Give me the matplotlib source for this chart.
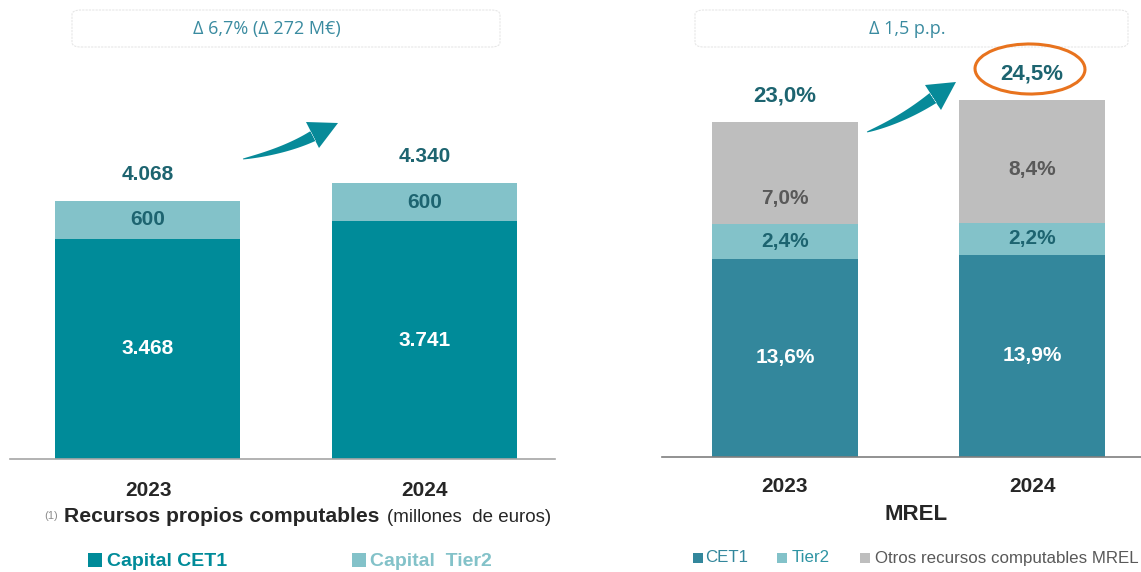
import matplotlib
matplotlib.use("Agg")
import matplotlib.pyplot as plt
import numpy as np
from matplotlib.patches import FancyBboxPatch, Ellipse, Polygon, Rectangle

# ---------------- data ----------------
years = ["2023", "2024"]
cet1_m = [3468, 3741]
tier2_m = [600, 600]
total_m = ["4.068", "4.340"]
cet1_lbl = ["3.468", "3.741"]
tier2_lbl = ["600", "600"]

mrel_cet1 = [13.6, 13.9]
mrel_tier2 = [2.4, 2.2]
mrel_otros = [7.0, 8.4]
mrel_total_lbl = ["23,0%", "24,5%"]

W, H = 1141, 572
fig = plt.figure(figsize=(W / 100, H / 100), dpi=100)

FN = ["Liberation Sans", "DejaVu Sans"]
FB = ["Open Sans", "DejaVu Sans"]


def fx(px):
    return px / W


def fy(py):
    return 1 - py / H


def pct(v):
    return f"{v:.1f}%".replace(".", ",")


C_CET1 = "#008B99"
C_T2 = "#83C2C9"
C_MCET1 = "#33879C"
C_OTROS = "#BEBEBE"
C_DARK = "#1D6470"

# ---------------- left chart ----------------
axL = fig.add_axes([fx(10), fy(459), fx(555) - fx(10), fy(60) - fy(459)])
axL.set_xlim(-0.496, 1.471)
axL.set_ylim(0, 399 / 0.0635)
x = [0, 1]
bw = 185 / 277
axL.bar(x, cet1_m, width=bw, color=C_CET1)
axL.bar(x, tier2_m, width=bw, bottom=cet1_m, color=C_T2)
for i in range(2):
    axL.text(x[i], cet1_m[i] / 2, cet1_lbl[i], ha="center", va="center",
             color="white", fontsize=15, fontweight="bold", family=FN)
    axL.text(x[i], cet1_m[i] + tier2_m[i] / 2, tier2_lbl[i], ha="center", va="center",
             color=C_DARK, fontsize=15, fontweight="bold", family=FN)
    axL.text(x[i], cet1_m[i] + tier2_m[i] + 420, total_m[i], ha="center", va="center",
             color=C_DARK, fontsize=15, fontweight="bold", family=FN)
for s in ["top", "right", "left"]:
    axL.spines[s].set_visible(False)
axL.spines["bottom"].set_color("#A6A6A6")
axL.spines["bottom"].set_linewidth(1.2)
axL.set_yticks([])
axL.set_xticks([])

# ---------------- right chart ----------------
axR = fig.add_axes([fx(662), fy(457), fx(1141) - fx(662), fy(60) - fy(457)])
axR.set_xlim(-0.498, 1.441)
axR.set_ylim(0, 397 / 14.56)
bw2 = 146 / 247
b1 = mrel_cet1
b2 = [a + b for a, b in zip(mrel_cet1, mrel_tier2)]
b3 = [a + b for a, b in zip(b2, mrel_otros)]
otros_frac = [0.255, 0.43]  # label position inside the grey segment
axR.bar(x, mrel_cet1, width=bw2, color=C_MCET1)
axR.bar(x, mrel_tier2, width=bw2, bottom=b1, color=C_T2)
axR.bar(x, mrel_otros, width=bw2, bottom=b2, color=C_OTROS)
for i in range(2):
    axR.text(x[i], mrel_cet1[i] / 2, pct(mrel_cet1[i]), ha="center", va="center",
             color="white", fontsize=15, fontweight="bold", family=FN)
    axR.text(x[i], b1[i] + mrel_tier2[i] / 2, pct(mrel_tier2[i]), ha="center", va="center",
             color=C_DARK, fontsize=15, fontweight="bold", family=FN)
    axR.text(x[i], b2[i] + mrel_otros[i] * otros_frac[i], pct(mrel_otros[i]), ha="center",
             va="center", color="#595959", fontsize=15, fontweight="bold", family=FN)
    axR.text(x[i], b3[i] + 1.8, mrel_total_lbl[i], ha="center", va="center",
             color=C_DARK, fontsize=16, fontweight="bold", family=FN)
for s in ["top", "right", "left"]:
    axR.spines[s].set_visible(False)
axR.spines["bottom"].set_color("#7F7F7F")
axR.spines["bottom"].set_linewidth(1.2)
axR.set_yticks([])
axR.set_xticks([])

# ---------------- x labels and titles ----------------
for px, lab in zip([148, 424], years):
    fig.text(fx(px), fy(490), lab, ha="center", va="center", fontsize=15,
             fontweight="bold", color="#262626", family=FN)
for px, lab in zip([784, 1032], years):
    fig.text(fx(px), fy(487), lab, ha="center", va="center", fontsize=15,
             fontweight="bold", color="#262626", family=FN)

fig.text(fx(44), fy(516), "(1)", ha="left", va="center", fontsize=8, color="#8C8C8C", family=FN)
fig.text(fx(64), fy(517), "Recursos propios computables", ha="left", va="center",
         fontsize=15.2, fontweight="bold", color="#262626", family=FN)
fig.text(fx(551), fy(518), "(millones  de euros)", ha="right", va="center",
         fontsize=13.5, color="#262626", family=FN)
fig.text(fx(916), fy(515), "MREL", ha="center", va="center", fontsize=16,
         fontweight="bold", color="#262626", family=FN)


# ---------------- legends ----------------
def square(x0, y0, s, color):
    fig.add_artist(Rectangle((fx(x0), fy(y0 + s)), s / W, s / H,
                             transform=fig.transFigure, facecolor=color, edgecolor="none"))


square(88, 553, 14, C_CET1)
fig.text(fx(107), fy(561), "Capital CET1", ha="left", va="center", fontsize=14,
         fontweight="bold", color=C_CET1, family=FN)
square(352, 553, 14, C_T2)
fig.text(fx(370), fy(561), "Capital  Tier2", ha="left", va="center", fontsize=14,
         fontweight="bold", color=C_T2, family=FN)

square(693, 553, 10, C_MCET1)
fig.text(fx(705), fy(558), "CET1", ha="left", va="center", fontsize=12.2, color=C_MCET1, family=FN)
square(777, 553, 10, C_T2)
fig.text(fx(792), fy(558), "Tier2", ha="left", va="center", fontsize=12.2, color="#2E94A3", family=FN)
square(860, 553, 10, C_OTROS)
fig.text(fx(875), fy(558), "Otros recursos computables MREL", ha="left", va="center",
         fontsize=12.2, color="#595959", family=FN)

# ---------------- top boxes ----------------
for (x0, x1, txt, cx) in [(72, 500, "\u0394 6,7% (\u0394 272 M\u20ac)", 267),
                          (695, 1128, "\u0394 1,5 p.p.", 907)]:
    box = FancyBboxPatch((fx(x0), fy(47)), fx(x1) - fx(x0), fy(10) - fy(47),
                         boxstyle="round,pad=0,rounding_size=0.008",
                         transform=fig.transFigure, facecolor="white",
                         edgecolor="#E6E6E6", linewidth=0.8, linestyle=(0, (2, 1)))
    fig.add_artist(box)
    fig.text(fx(cx), fy(29), txt, ha="center", va="center", fontsize=13,
             color="#3A8BA0", family=FB)


# ---------------- tapered curved arrows (decoration, pixel coords) ----------------
def tapered_arrow(p0, ctrl, pb, c1, tip, c2, w_end, color):
    p0, ctrl, pb = np.array(p0, float), np.array(ctrl, float), np.array(pb, float)
    t = np.linspace(0, 1, 40)[:, None]
    pts = (1 - t) ** 2 * p0 + 2 * (1 - t) * t * ctrl + t ** 2 * pb
    der = 2 * (1 - t) * (ctrl - p0) + 2 * t * (pb - ctrl)
    nrm = np.stack([-der[:, 1], der[:, 0]], axis=1)
    nrm /= np.linalg.norm(nrm, axis=1, keepdims=True)
    w = (0.8 + (w_end - 0.8) * t[:, 0] ** 0.8)[:, None] / 2
    up = pts + nrm * w
    dn = pts - nrm * w
    poly = np.vstack([up, [c1, tip, c2], dn[::-1]])
    poly = np.column_stack([poly[:, 0] / W, 1 - poly[:, 1] / H])
    fig.add_artist(Polygon(poly, closed=True, transform=fig.transFigure,
                           facecolor=color, edgecolor="none"))


tapered_arrow((243, 159), (285, 151), (313, 136), (306, 122), (338, 123), (319, 148), 11, "#078A99")
tapered_arrow((867, 132), (902, 120), (933, 98), (925, 85), (956, 82), (941, 110), 12, "#078A99")

# ---------------- orange ellipse ----------------
ell = Ellipse((fx(1030), fy(69)), fx(110), fy(0) - fy(50), angle=-4,
              transform=fig.transFigure, fill=False, edgecolor="#E8731E", linewidth=2.2)
fig.add_artist(ell)

fig.savefig("out.png", dpi=100)
